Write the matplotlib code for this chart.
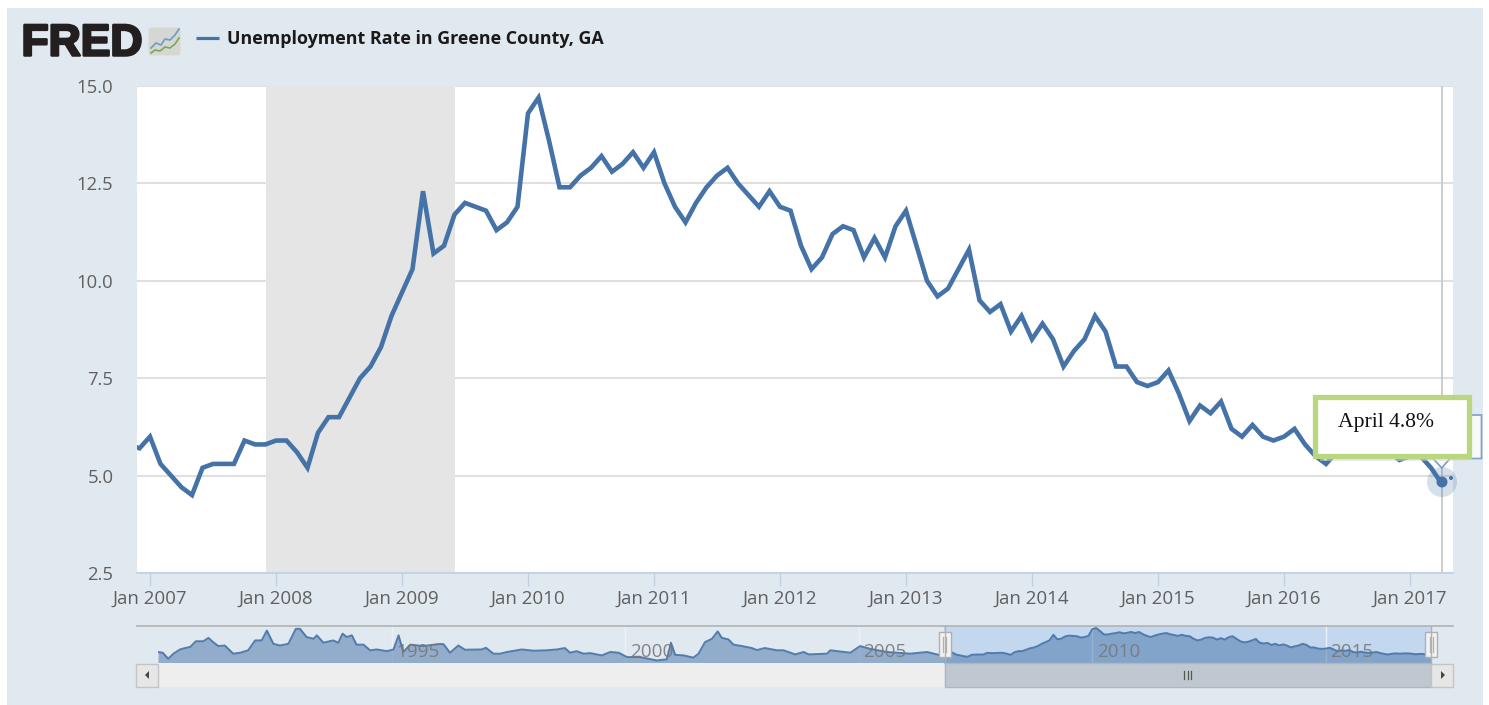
import matplotlib
matplotlib.use("Agg")
import matplotlib.pyplot as plt
import matplotlib.patheffects as pe
from matplotlib.patches import Rectangle, FancyBboxPatch, Circle, Polygon
import numpy as np

W, H = 1489, 705

# monthly rate, Nov 2006 .. Apr 2017
rate = [5.8, 5.7,
        6.0, 5.3, 5.0, 4.7, 4.5, 5.2, 5.3, 5.3, 5.3, 5.9, 5.8, 5.8,
        5.9, 5.9, 5.6, 5.2, 6.1, 6.5, 6.5, 7.0, 7.5, 7.8, 8.3, 9.1,
        9.7, 10.3, 12.3, 10.7, 10.9, 11.7, 12.0, 11.9, 11.8, 11.3, 11.5, 11.9,
        14.3, 14.7, 13.6, 12.4, 12.4, 12.7, 12.9, 13.2, 12.8, 13.0, 13.3, 12.9,
        13.3, 12.5, 11.9, 11.5, 12.0, 12.4, 12.7, 12.9, 12.5, 12.2, 11.9, 12.3,
        11.9, 11.8, 10.9, 10.3, 10.6, 11.2, 11.4, 11.3, 10.6, 11.1, 10.6, 11.4,
        11.8, 10.9, 10.0, 9.6, 9.8, 10.3, 10.8, 9.5, 9.2, 9.4, 8.7, 9.1,
        8.5, 8.9, 8.5, 7.8, 8.2, 8.5, 9.1, 8.7, 7.8, 7.8, 7.4, 7.3,
        7.4, 7.7, 7.1, 6.4, 6.8, 6.6, 6.9, 6.2, 6.0, 6.3, 6.0, 5.9,
        6.0, 6.2, 5.8, 5.5, 5.3, 5.6, 5.7, 5.6, 5.7, 5.7, 5.6, 5.4,
        5.5, 5.5, 5.2, 4.8]
year_ticks = [0, 12, 24, 36, 48, 60, 72, 84, 96, 108, 120]
year_labels = ["Jan 2007", "Jan 2008", "Jan 2009", "Jan 2010", "Jan 2011", "Jan 2012",
               "Jan 2013", "Jan 2014", "Jan 2015", "Jan 2016", "Jan 2017"]
y_ticks = [2.5, 5.0, 7.5, 10.0, 12.5, 15.0]
recession = (11, 29)  # Dec 2007 .. Jun 2009

# navigator history
nav_years = [1990.0, 1990.10, 1990.22, 1990.33, 1990.47, 1990.58, 1990.69, 1990.81, 1990.97,
             1991.08, 1991.18, 1991.29, 1991.43, 1991.61, 1991.76, 1991.93, 1992.08, 1992.22,
             1992.33, 1992.47, 1992.61, 1992.79, 1992.95, 1993.04, 1993.18, 1993.33, 1993.40,
             1993.54, 1993.75, 1993.86, 1993.95, 1994.04, 1994.15, 1994.25, 1994.40, 1994.54,
             1994.68, 1994.90, 1995.04, 1995.15, 1995.25, 1995.40, 1995.68, 1996.0, 1996.11,
             1996.25, 1996.43, 1996.57, 1996.93, 1997.02, 1997.18, 1997.32, 1997.47, 1997.79,
             1998.04, 1998.32, 1998.54, 1998.71, 1998.82, 1998.96, 1999.11, 1999.25, 1999.5,
             1999.68, 1999.86, 2000.04, 2000.32, 2000.68, 2000.89, 2000.98, 2001.07, 2001.25,
             2001.46, 2001.57, 2001.71, 2001.86, 2001.98, 2002.07, 2002.21, 2002.32, 2002.5,
             2002.71, 2002.82, 2002.99, 2003.25, 2003.39, 2003.64, 2003.82, 2003.93, 2004.32,
             2004.39, 2004.82, 2005.03, 2005.25, 2005.6, 2006.1, 2006.46, 2006.71]
nav_values = [6.2, 5.95, 3.8, 5.6, 7.1, 7.6, 8.0, 10.0, 10.0,
              11.2, 9.7, 8.3, 8.5, 5.6, 5.95, 6.8, 10.3, 10.3,
              13.8, 9.1, 8.5, 9.1, 14.4, 14.4, 11.5, 10.9, 12.1,
              9.5, 10.3, 9.5, 12.7, 11.5, 12.1, 8.8, 8.8, 6.8,
              7.1, 6.5, 7.1, 12.1, 6.2, 8.8, 8.3, 9.0, 9.0,
              5.95, 8.5, 7.0, 7.1, 7.7, 5.6, 5.6, 6.2, 7.1,
              6.65, 6.8, 7.1, 7.6, 5.95, 6.5, 5.6, 5.8, 5.0,
              6.2, 5.95, 4.4, 4.4, 3.2, 3.6, 9.5, 5.2, 5.0,
              4.2, 5.6, 9.7, 10.9, 13.5, 11.2, 10.65, 8.8, 8.3,
              7.6, 6.9, 7.6, 6.8, 6.8, 5.35, 6.2, 5.35, 5.6,
              6.8, 5.95, 8.3, 7.3, 6.2, 5.6, 6.2, 5.2]
nav_labels = [1995, 2000, 2005, 2010, 2015]

BG = "#e1e9f0"
LINE = "#4572a7"
FONT = "Open Sans"

plt.rcParams["font.family"] = [FONT, "DejaVu Sans"]
fig = plt.figure(figsize=(W / 100, H / 100), dpi=100, facecolor="white")


def px_axes(x0, y0, x1, y1, **kw):
    # axes placed by pixel box, y measured from the top
    return fig.add_axes([x0 / W, 1 - y1 / H, (x1 - x0) / W, (y1 - y0) / H], **kw)


# page chrome in pixel coordinates, below everything else
chrome = fig.add_axes([0, 0, 1, 1], zorder=0)
chrome.set_xlim(0, W)
chrome.set_ylim(H, 0)
chrome.axis("off")
chrome.add_patch(Rectangle((7, 8), 1476, 697, fc=BG, ec="none"))

# logo
chrome.text(21.5, 55.5, "FRED", fontsize=32, fontweight="bold", family="Liberation Sans", color="#231f20",
            va="baseline", path_effects=[pe.withStroke(linewidth=1.8, foreground="#231f20")])
chrome.add_patch(FancyBboxPatch((148, 27), 33, 29, boxstyle="round,pad=0,rounding_size=4",
                                fc="#d4d7d4", ec="#e4e6e4", lw=1))
chrome.plot([151, 156, 161, 165, 170, 175, 179], [48, 43, 45, 39, 40, 35, 29], color="#6f9cc0", lw=1.2)
chrome.plot([151, 155, 160, 165, 170, 175, 179], [53, 50, 51, 47, 48, 44, 38], color="#7fa850", lw=1.2)

# legend
chrome.plot([196, 219], [38, 38], color=LINE, lw=2.3, solid_capstyle="butt")
chrome.text(227, 38.5, "Unemployment Rate in Greene County, GA", fontsize=12.85, fontweight="bold",
            color="#1a1a1a", va="center", ha="left")

# main plot
ax = px_axes(137, 86, 1453, 573, zorder=2)
months = np.arange(len(rate)) - 2
ax.set_xlim((137 - 150) / 10.5, (1453 - 150) / 10.5)
ax.set_ylim(2.5, 15)
ax.axvspan(recession[0], recession[1], fc="#e5e5e5", ec="none", zorder=1)
ax.set_yticks(y_ticks)
ax.set_yticklabels(["%.1f" % v for v in y_ticks])
ax.set_xticks(year_ticks)
ax.set_xticklabels(year_labels)
ax.grid(axis="y", color="#e0e0e0", lw=1.5, zorder=1.5)
ax.set_axisbelow(True)
ax.axvline(months[-1], color="#c8c8c8", lw=1.3, zorder=2)
ax.plot(months, rate, color=LINE, lw=3.3, solid_joinstyle="miter", zorder=3)
for s in ["top", "left", "right"]:
    ax.spines[s].set_visible(False)
ax.spines["bottom"].set_color("#c0d0e0")
ax.spines["bottom"].set_linewidth(1.2)
ax.tick_params(axis="y", length=0, pad=17, labelsize=13.3, labelcolor="#606060")
ax.tick_params(axis="x", length=9.5, width=1, color="#c0d0e0", pad=2.5, labelsize=13.5, labelcolor="#606060")

# navigator
nav = px_axes(158, 626, 1431, 663, zorder=2)
nav.patch.set_alpha(0)
nav.set_xlim(1990, 2017.25)
nav.set_ylim(2.3, 15.4)
nav.axis("off")
nav.axvspan((944 - 158) / 46.7 + 1990, 2017.25, fc="#c3d7ef", ec="none", zorder=0)
for y in nav_labels:
    nav.axvline(y, color="#edf1f5", lw=1, zorder=0.5)
main_years = 2007 + months / 12
all_years = np.concatenate([nav_years, main_years])
all_values = np.concatenate([nav_values, rate])
nav.fill_between(all_years, 2.3, all_values, color=LINE, alpha=0.5, lw=0, zorder=1)
nav.plot(all_years, all_values, color=LINE, lw=1.4, alpha=0.9, zorder=2)
for y in nav_labels:
    nav.text(y + 0.1, 6.1, str(y), fontsize=13.6, color="#787878", alpha=0.9, va="center", ha="left", zorder=3)

# navigator and scrollbar furniture
over = fig.add_axes([0, 0, 1, 1], zorder=4)
over.set_xlim(0, W)
over.set_ylim(H, 0)
over.axis("off")
over.patch.set_alpha(0)
over.plot([137, 1453], [625.7, 625.7], color="#b2b2b2", lw=1.2)
over.add_patch(Rectangle((158, 663), 786, 23.5, fc="#eeeeee", ec="none"))
over.add_patch(Rectangle((944.5, 663), 486.5, 23.5, fc="#bfc8d1", ec="#b5b5b5", lw=1))
over.add_patch(Rectangle((135.5, 664), 22, 22.5, fc="#e6e6e6", ec="#c4c4c4", lw=1))
over.add_patch(Rectangle((1431, 664), 22, 22.5, fc="#e6e6e6", ec="#c4c4c4", lw=1))
over.add_patch(Polygon([[149, 671], [149, 679], [145, 675]], fc="#444444", ec="none"))
over.add_patch(Polygon([[1441, 671], [1441, 679], [1445, 675]], fc="#444444", ec="none"))
for gx in (1184, 1187.5, 1191):
    over.plot([gx, gx], [671, 679], color="#555555", lw=0.9)
for hx in (944.5, 1431):
    over.plot([hx, hx], [626, 663], color="#b2b2b2", lw=1)
    over.add_patch(Rectangle((hx - 6, 632), 12, 25, fc="#f2f2f2", ec="#b0b0b0", lw=1))
    for gx in (hx - 1.5, hx + 1.5):
        over.plot([gx, gx], [637, 652], color="#b0b0b0", lw=0.9)

# highlighted point and the two tooltips
over.add_patch(Circle((1442, 482), 15, fc=LINE, alpha=0.22, ec="none"))
over.add_patch(Circle((1442, 482), 5.5, fc=LINE, ec="none"))
over.add_patch(Circle((1451, 478), 2, fc=LINE, ec="none"))
over.add_patch(Polygon([[1400, 415], [1481.5, 415], [1481.5, 458.5], [1450, 458.5], [1441.7, 468],
                        [1433, 458.5], [1400, 458.5]], fc="#f7f9fb", ec="#7f9fc4", lw=1.2))
over.add_patch(Rectangle((1320, 458), 148, 3, fc="#d8d8d8", ec="none", alpha=0.5))
over.add_patch(Rectangle((1315, 396.5), 153.5, 59.5, fc="white", ec="#b9d77e", lw=3.8))
over.text(1338, 423, "April 4.8%", family="Liberation Serif", fontsize=15.6, color="#111111", va="center", ha="left")

fig.savefig("out.png", dpi=100, facecolor="white")
